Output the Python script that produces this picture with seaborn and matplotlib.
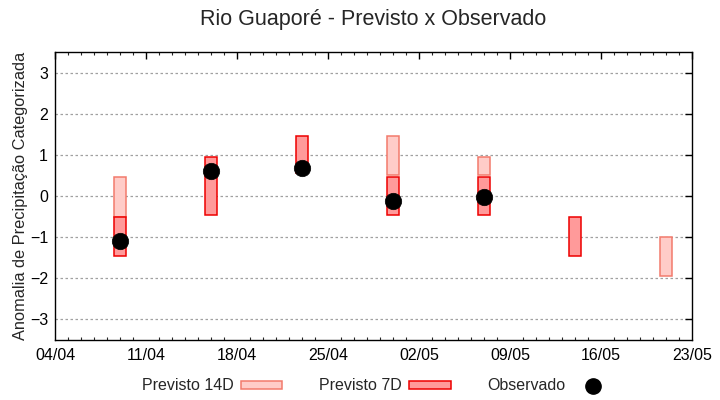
import numpy as np
import pandas as pd
import matplotlib
matplotlib.use("Agg")
import matplotlib.pyplot as plt
import matplotlib.dates as mdates
from matplotlib.patches import Patch
from matplotlib.lines import Line2D
import seaborn as sns

# ---- data ----
dates = ["2023-04-09", "2023-04-16", "2023-04-23", "2023-04-30",
         "2023-05-07", "2023-05-14", "2023-05-21"]
p14_low = [-0.50, np.nan, np.nan, 0.50, 0.50, np.nan, -1.95]
p14_high = [0.45, np.nan, np.nan, 1.45, 0.95, np.nan, -1.00]
p7_low = [-1.45, -0.45, 0.55, -0.45, -0.45, -1.45, np.nan]
p7_high = [-0.50, 0.95, 1.45, 0.45, 0.45, -0.50, np.nan]
observed = [-1.10, 0.60, 0.68, -0.12, -0.03, np.nan, np.nan]

title = "Rio Guaporé - Previsto x Observado"
ylabel = "Anomalia de Precipitação Categorizada"
legend_labels = ["Previsto 14D", "Previsto 7D", "Observado"]
xstart, xend = "2023-04-04", "2023-05-23"

# ---- style ----
sns.set_style("white")
plt.rcParams["font.family"] = ["Liberation Sans", "DejaVu Sans"]

c14_fill, c14_edge = "#ffccc8", "#f27a6c"
c7_fill, c7_edge = "#ff9a9a", "#ee0000"

df = pd.DataFrame({
    "date": pd.to_datetime(dates),
    "p14_low": p14_low, "p14_high": p14_high,
    "p7_low": p7_low, "p7_high": p7_high,
    "obs": observed,
})
df["x"] = mdates.date2num(df["date"])

fig = plt.figure(figsize=(7.2, 4.0), dpi=100)
ax = fig.add_axes([55/720, 1-340/400, (692-55)/720, (340-52)/400])

ax.bar(df["x"], df["p14_high"] - df["p14_low"], bottom=df["p14_low"], width=0.9,
       color=c14_fill, edgecolor=c14_edge, linewidth=1.1, zorder=2)
ax.bar(df["x"], df["p7_high"] - df["p7_low"], bottom=df["p7_low"], width=0.9,
       color=c7_fill, edgecolor=c7_edge, linewidth=1.1, zorder=3)
sns.scatterplot(data=df.dropna(subset=["obs"]), x="x", y="obs", ax=ax,
                color="black", s=140, edgecolor="black", linewidth=0.5,
                zorder=4, legend=False)

x0 = mdates.date2num(pd.Timestamp(xstart))
x1 = mdates.date2num(pd.Timestamp(xend))
ax.set_xlim(x0, x1)
ax.set_ylim(-3.5, 3.5)
ax.set_xticks(np.arange(x0, x1 + 0.1, 7))
ax.xaxis.set_major_formatter(mdates.DateFormatter("%d/%m"))
ax.set_xticks(np.arange(x0, x1 + 0.1, 1), minor=True)
ax.set_yticks([-3, -2, -1, 0, 1, 2, 3])

ax.tick_params(axis="both", which="major", direction="in", length=5, width=1,
               top=True, right=True, labelsize=11.5, colors="black", pad=6)
ax.tick_params(axis="x", which="minor", direction="in", length=2.5, width=0.8,
               top=True, bottom=True)
ax.tick_params(axis="y", which="major", pad=5)

for s in ax.spines.values():
    s.set_color("black")
    s.set_linewidth(1.0)

ax.yaxis.grid(True, color="#a0a0a0", linestyle=(0, (2, 2)), linewidth=0.9)
ax.xaxis.grid(False)
ax.set_axisbelow(True)

ax.set_xlabel("")
ax.set_ylabel(ylabel, fontsize=11.8)
ax.yaxis.set_label_coords(-0.043, 0.5)

fig.text(373.5/720, 1-20/400, title, fontsize=15.5, ha="center", va="center")

handles = [
    Patch(facecolor=c14_fill, edgecolor=c14_edge, linewidth=1.1),
    Patch(facecolor=c7_fill, edgecolor=c7_edge, linewidth=1.1),
    Line2D([], [], linestyle="none", marker="o", markersize=11,
           color="black"),
]
fig.legend(handles, legend_labels, loc="center", bbox_to_anchor=(0.525, 1-386/400),
           ncol=3, frameon=False, markerfirst=False, fontsize=11.5,
           handlelength=2.6, handleheight=0.35, handletextpad=0.45,
           columnspacing=2.3)

fig.savefig("out.png", dpi=100)
